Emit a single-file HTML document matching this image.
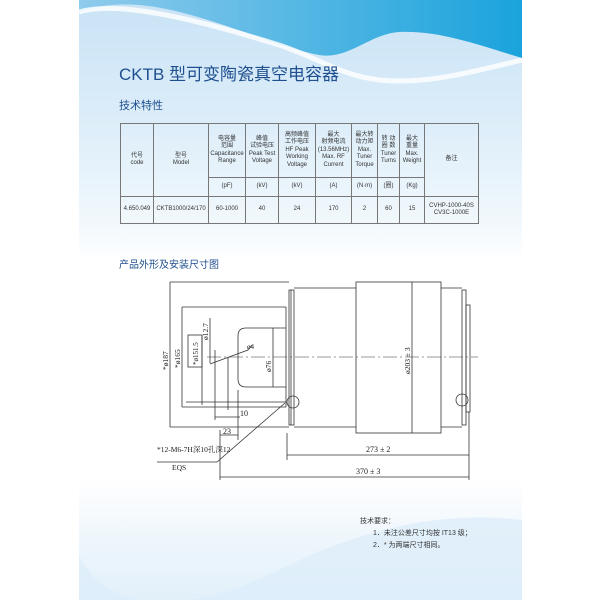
<!DOCTYPE html>
<html><head><meta charset="utf-8"><style>
body{margin:0;width:600px;height:600px;background:#fff;position:relative;overflow:hidden;font-family:"Liberation Sans","Noto Sans CJK SC",sans-serif}
#pg{position:absolute;left:79px;top:0;width:443px;height:600px;overflow:hidden;background:linear-gradient(#c9e3f6 0px,#dcedf9 120px,#f3f9fd 230px,#fff 260px,#fff 480px,#eef6fc 540px,#e2f0fa 600px)}
.t{position:absolute;white-space:nowrap}
table{position:absolute;left:41px;top:123px;border-collapse:collapse;font-size:6px;color:#333;text-align:center;line-height:7.5px}
td{border:1px solid #777;padding:0}
</style></head><body>
<div id="pg">
<svg width="443" height="600" style="position:absolute;left:0;top:0">
<defs><linearGradient id="g" x1="0" y1="0" x2="1" y2="0"><stop offset="0" stop-color="#8fcbec"/><stop offset="1" stop-color="#1aa3dc"/></linearGradient></defs>
<path d="M0 0 H443 V58 C400 45 360 30 320 32 C290 34 270 60 240 55 C190 45 120 10 60 5 C30 3 10 8 0 12 Z" fill="url(#g)"/>
<path d="M0 12 C40 0 120 20 200 45 C240 58 260 75 300 80 C350 85 400 70 443 60" stroke="#fff" stroke-width="5" fill="none" opacity=".8"/>
<path d="M0 555 C30 620 120 610 200 570 C280 530 360 510 443 520 V600 H0 Z" fill="#dbedf9" opacity=".7"/>
</svg>
<div class="t" style="left:40px;top:60px;font-size:17px;color:#1f4f8f">CKTB 型可变陶瓷真空电容器</div>
<div class="t" style="left:40px;top:97px;font-size:11px;color:#1f4f8f">技术特性</div>
<div class="t" style="left:40px;top:256px;font-size:10px;color:#1f4f8f">产品外形及安装尺寸图</div>
<table>
<tr style="height:54px"><td rowspan="2" style="width:32px">代号<br>code</td><td rowspan="2" style="width:54px">型号<br>Model</td><td style="width:36px">电容量<br>范围<br>Capacitance<br>Range</td><td style="width:32px">峰值<br>试验电压<br>Peak Test<br>Voltage</td><td style="width:36px">高频峰值<br>工作电压<br>HF Peak<br>Working<br>Voltage</td><td style="width:35px">最大<br>射频电流<br>(13.56MHz)<br>Max. RF<br>Current</td><td style="width:25px">最大转<br>动力矩<br>Max.<br>Tuner<br>Torque</td><td style="width:21px">转 动<br>圈 数<br>Tuner<br>Turns</td><td style="width:24px">最大<br>重量<br>Max.<br>Weight</td><td rowspan="2" style="width:53px">备注</td></tr>
<tr style="height:19px"><td>(pF)</td><td>(kV)</td><td>(kV)</td><td>(A)</td><td>(N·m)</td><td>(圈)</td><td>(Kg)</td></tr>
<tr style="height:27px"><td>4.650.049</td><td>CKTB1000/24/170</td><td>60-1000</td><td>40</td><td>24</td><td>170</td><td>2</td><td>60</td><td>15</td><td>CVHP-1000-40S<br>CV3C-1000E</td></tr>
</table>
<div class="t" style="left:281px;top:516px;font-size:7px;color:#333">技术要求：</div>
<div class="t" style="left:294px;top:528px;font-size:7px;color:#333">1．未注公差尺寸均按 IT13 级；</div>
<div class="t" style="left:294px;top:540px;font-size:7px;color:#333">2．* 为两端尺寸相同。</div>
</div>
<svg width="600" height="600" style="position:absolute;left:0;top:0" fill="none" stroke="#333" stroke-width="0.8" font-family="Liberation Serif,Noto Serif CJK SC,serif" font-size="8">
<rect x="356" y="282" width="85" height="151"/>
<line x1="294" y1="288" x2="356" y2="288"/><line x1="294" y1="427" x2="356" y2="427"/>
<rect x="289" y="290" width="5" height="135"/><line x1="291" y1="290" x2="291" y2="425"/>
<line x1="441" y1="288" x2="462" y2="288"/><line x1="441" y1="427" x2="462" y2="427"/>
<rect x="462" y="290" width="4" height="135"/><rect x="466" y="305" width="4" height="107"/>
<path d="M170 282H289M182 307H286M182 407H286M186 402H286M170 427H289"/>
<path d="M286 328H246Q238 328 238 336V379Q238 387 246 387H286"/>
<line x1="286" y1="307" x2="286" y2="407"/>
<path d="M207 357H478" stroke-dasharray="14 3 2 3" stroke-width="0.6"/>
<line x1="170" y1="282" x2="170" y2="427"/><line x1="182" y1="307" x2="182" y2="407"/>
<line x1="202" y1="335" x2="202" y2="405"/><rect x="188" y="335" width="14" height="32"/>
<line x1="210" y1="318" x2="210" y2="363"/><line x1="273" y1="328" x2="273" y2="387"/>
<line x1="412" y1="282" x2="412" y2="433"/>
<line x1="210" y1="364" x2="248" y2="350"/><line x1="248" y1="350" x2="252" y2="345"/>
<line x1="215" y1="350" x2="215" y2="420"/><line x1="228" y1="357" x2="228" y2="410"/><line x1="238" y1="390" x2="238" y2="440"/>
<line x1="215" y1="417" x2="240" y2="417"/><line x1="220" y1="435" x2="238" y2="435"/>
<circle cx="293" cy="402" r="6"/><circle cx="462" cy="400" r="6"/>
<line x1="220" y1="430" x2="220" y2="480"/><line x1="469" y1="412" x2="469" y2="480"/><line x1="287" y1="433" x2="287" y2="460"/>
<line x1="287" y1="455" x2="469" y2="455"/><line x1="220" y1="477" x2="469" y2="477"/>
<path d="M285 403L217 462H157"/>
<g fill="#222" stroke="none">
<text x="366" y="452">273 ± 2</text><text x="356" y="474">370 ± 3</text>
<text x="240" y="416">10</text><text x="223" y="434">23</text>
<text x="157" y="452" font-size="7.5">*12-M6-7H深10孔深12</text><text x="172" y="470" font-size="7.5">EQS</text>
<text x="247" y="349" font-size="7">ø4</text>
<text transform="translate(168 370) rotate(-90)" font-size="7.5">*ø187</text>
<text transform="translate(180 368) rotate(-90)" font-size="7.5">*ø165</text>
<text transform="translate(198 365) rotate(-90)" font-size="7">*ø151.5</text>
<text transform="translate(208 340) rotate(-90)" font-size="7.5">ø12.7</text>
<text transform="translate(271 372) rotate(-90)" font-size="7.5">ø76</text>
<text transform="translate(410 374) rotate(-90)" font-size="7.5">ø203 ± 3</text>
</g>
</svg>
</body></html>
